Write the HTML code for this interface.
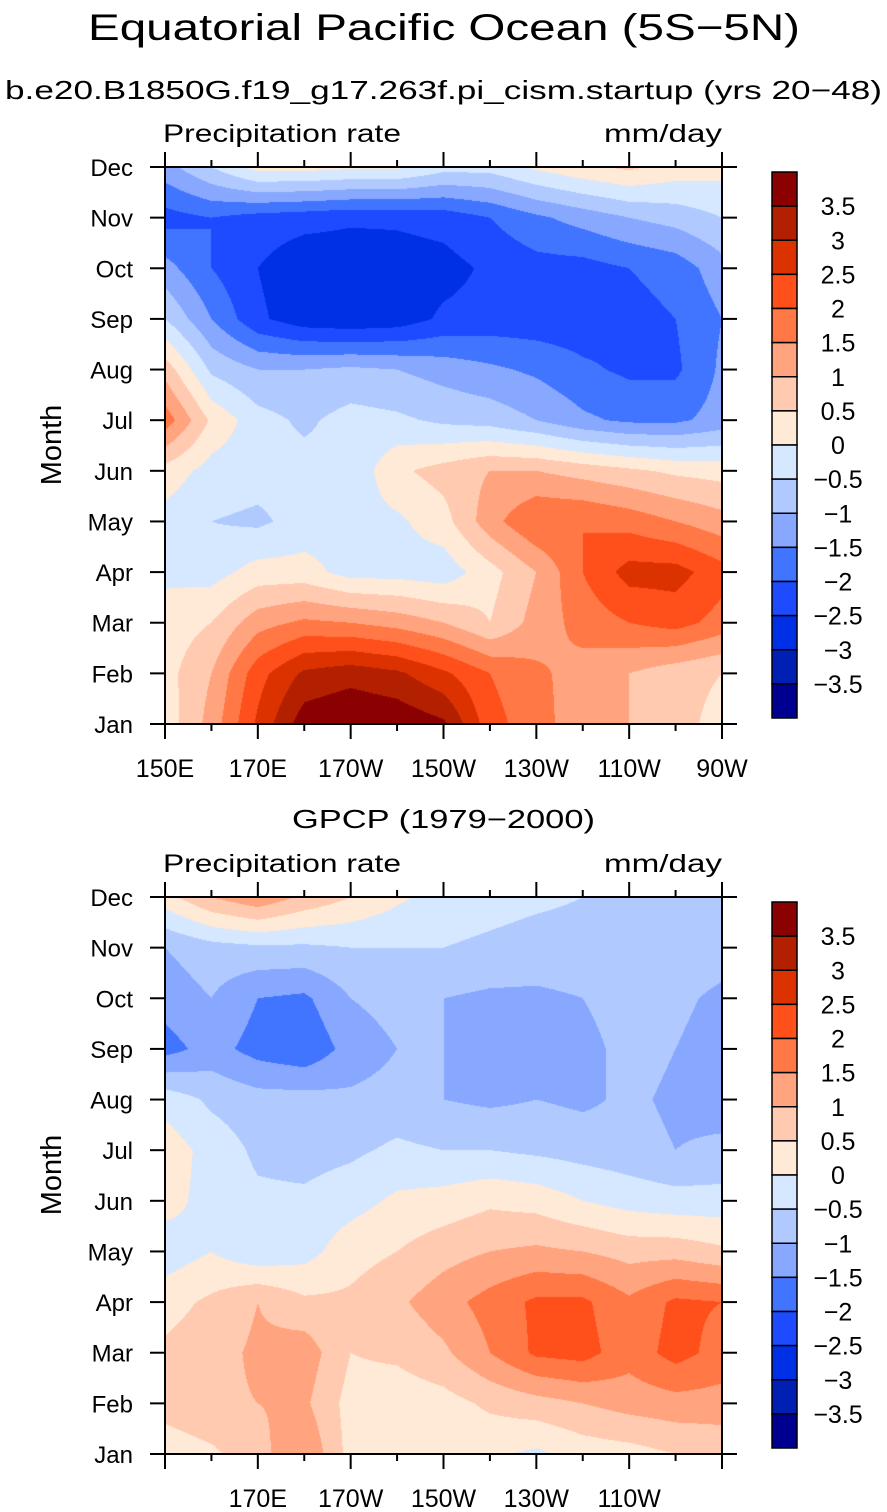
<!DOCTYPE html>
<html><head><meta charset="utf-8">
<style>
html,body{margin:0;padding:0;background:#fff;}
body{width:887px;height:1512px;position:relative;overflow:hidden;font-family:"Liberation Sans",sans-serif;}
canvas{position:absolute;}
svg{position:absolute;left:0;top:0;}
text{font-family:"Liberation Sans",sans-serif;fill:#000;}
</style></head>
<body>
<canvas id="c1" width="557" height="557" style="left:165px;top:167px"></canvas>
<canvas id="c2" width="557" height="557" style="left:165px;top:897px"></canvas>
<svg id="s" width="887" height="1512">
<text x="88" y="40" font-size="37" textLength="712" lengthAdjust="spacingAndGlyphs" font-weight="300">Equatorial Pacific Ocean (5S−5N)</text>
<text x="5" y="99" font-size="26" textLength="877" lengthAdjust="spacingAndGlyphs">b.e20.B1850G.f19_g17.263f.pi_cism.startup (yrs 20−48)</text>
<text x="292" y="828" font-size="26" textLength="303" lengthAdjust="spacingAndGlyphs">GPCP (1979−2000)</text>
</svg>
<script>
const months=["Jan","Feb","Mar","Apr","May","Jun","Jul","Aug","Sep","Oct","Nov","Dec"];
const lons=[150,160,170,180,190,200,210,220,230,240,250,260,270];
const lonTickLabels=["150E","170E","170W","150W","130W","110W","90W"];
const lonTickValues=[150,170,190,210,230,250,270];
const levels=[-3.5,-3,-2.5,-2,-1.5,-1,-0.5,0,0.5,1,1.5,2,2.5,3,3.5];
const levelColors=["#000090","#0020B4","#0030E6","#1E4BFF","#4275FF","#88A8FF","#B0CAFF","#D6E8FF","#FFE9D7","#FFCAB0","#FFA47F","#FF7845","#FF4F1A","#DC3200","#B22000","#8B0000"];
const modelVals=[
[0.2,1.2,2.6,3.8,4.0,3.9,3.6,2.2,1.7,1.2,1.0,0.7,0.3],
[0.3,1.0,2.3,3.1,3.3,3.1,2.6,2.0,1.6,1.3,1.0,0.7,0.5],
[0.2,0.5,1.3,1.6,1.5,1.3,1.0,0.5,1.2,1.7,2.0,2.2,1.8],
[-0.1,-0.2,0.2,0.2,-0.2,-0.2,-0.3,0.3,1.0,2.0,2.7,2.7,2.2],
[-0.2,-0.5,-0.6,-0.3,-0.2,-0.1,0.3,1.3,2.0,2.0,1.8,1.5,1.2],
[0.3,-0.2,-0.3,-0.3,-0.4,0.4,0.7,1.0,1.0,0.8,0.6,0.4,0.3],
[1.8,0.4,-0.3,-0.6,-0.3,-0.4,-0.6,-0.7,-1.0,-1.4,-1.6,-1.6,-1.3],
[0.8,-0.6,-1.0,-1.0,-0.9,-1.0,-1.2,-1.4,-1.6,-1.9,-2.1,-2.1,-1.4],
[-0.5,-1.5,-2.4,-2.8,-2.9,-2.8,-2.4,-2.3,-2.3,-2.3,-2.2,-2.0,-1.5],
[-1.3,-2.0,-2.5,-2.9,-2.9,-2.8,-2.7,-2.4,-2.2,-2.2,-2.0,-1.8,-1.2],
[-2.2,-2.0,-2.2,-2.3,-2.4,-2.4,-2.3,-2.0,-1.6,-1.3,-1.0,-0.8,-0.5],
[-1.2,-0.5,0.2,0.2,0.1,0.1,-0.3,-0.3,0.1,0.4,0.6,0.3,0.2]];
const gpcpVals=[
[0.2,0.4,0.8,1.5,0.3,0.2,0.1,0.1,-0.1,0.2,0.3,0.5,0.6],
[0.7,0.9,1.0,1.1,0.3,0.2,0.3,0.6,0.8,1.0,1.2,1.3,1.3],
[0.6,0.8,1.1,1.3,0.5,0.6,0.9,1.5,2.1,2.2,1.7,2.2,1.8],
[0.3,0.6,1.0,0.6,0.6,0.9,1.3,1.7,2.1,2.1,1.6,2.1,2.0],
[-0.3,0.0,-0.4,-0.2,0.3,0.5,0.8,1.0,1.1,1.0,0.8,0.8,0.6],
[0.2,-0.2,-0.4,-0.4,-0.2,0.1,0.2,0.4,0.3,0.0,-0.2,-0.3,-0.3],
[0.3,-0.2,-0.6,-0.7,-0.6,-0.4,-0.5,-0.5,-0.6,-0.7,-0.8,-1.0,-0.9],
[-0.2,-0.6,-0.8,-0.8,-0.9,-0.8,-1.0,-1.1,-1.0,-1.1,-0.9,-1.1,-1.2],
[-1.7,-1.3,-1.7,-1.9,-1.3,-1.0,-1.0,-1.2,-1.2,-1.2,-0.8,-1.0,-1.2],
[-1.3,-1.0,-1.5,-1.6,-1.0,-0.8,-1.0,-1.1,-1.1,-1.0,-0.7,-0.9,-1.1],
[-1.0,-0.7,-0.6,-0.6,-0.5,-0.5,-0.5,-0.6,-0.7,-0.7,-0.7,-0.7,-0.8],
[0.3,1.0,1.4,0.9,0.5,0.1,-0.2,-0.3,-0.4,-0.5,-0.6,-0.6,-0.6]];

const PX=165,PW=557,PH=557;
function xOf(lon){return PX+(lon-150)/120*PW;}
function yOf(top,m){return top+PH-m/11*PH;}
function colorOf(v){let i=0;while(i<levels.length&&v>=levels[i])i++;return levelColors[i];}
function drawMap(id,vals){
  const ctx=document.getElementById(id).getContext('2d');
  const nx=lons.length-1,ny=months.length-1;
  for(let py=0;py<PH;py++){
    const fm=(PH-0.5-py)/PH*ny;const m0=Math.min(ny-1,Math.floor(fm));const tm=fm-m0;
    let prev=null,start=0;
    for(let px=0;px<=PW;px++){
      let c=null;
      if(px<PW){
        const fl=(px+0.5)/PW*nx;const l0=Math.min(nx-1,Math.floor(fl));const tl=fl-l0;
        const v=(1-tm)*((1-tl)*vals[m0][l0]+tl*vals[m0][l0+1])+tm*((1-tl)*vals[m0+1][l0]+tl*vals[m0+1][l0+1]);
        c=colorOf(v);
      }
      if(c!==prev){if(prev){ctx.fillStyle=prev;ctx.fillRect(start,py,px-start,1);}prev=c;start=px;}
    }
  }
}
drawMap('c1',modelVals);drawMap('c2',gpcpVals);

const svg=document.getElementById('s');const NS='http://www.w3.org/2000/svg';
function el(tag,attrs,parent){const e=document.createElementNS(NS,tag);for(const k in attrs)e.setAttribute(k,attrs[k]);(parent||svg).appendChild(e);return e;}
function panel(top,prefix,showEnds){
  const g=el('g',{});
  
  
  const r=el('rect',{x:PX,y:top,width:PW,height:PH,fill:'none',stroke:'#000','stroke-width':2},g);
  
  
  months.forEach((m,i)=>{
    const y=yOf(top,i);
    el('line',{x1:PX-15,x2:PX,y1:y,y2:y,stroke:'#000','stroke-width':2},g);
    el('line',{x1:PX+PW,x2:PX+PW+15,y1:y,y2:y,stroke:'#000','stroke-width':2},g);
    const t=el('text',{x:133,y:y+9,'font-size':24,'text-anchor':'end'},g);t.textContent=m;
    
    
  });
  for(let lon=150;lon<=270;lon+=10){
    const x=xOf(lon);const major=(lon-150)%20===0;const L=major?15:7;
    el('line',{x1:x,x2:x,y1:top-L,y2:top,stroke:'#000','stroke-width':2},g);
    el('line',{x1:x,x2:x,y1:top+PH,y2:top+PH+L,stroke:'#000','stroke-width':2},g);
  }
  lonTickValues.forEach((lon,i)=>{
    if(!showEnds&&(lon===150||lon===270))return;
    const t=el('text',{x:xOf(lon),y:top+PH+53,'font-size':25,'text-anchor':'middle'},g);t.textContent=lonTickLabels[i];
    
    
  });
  const a=el('text',{x:163,y:top-25,'font-size':25,textLength:238,lengthAdjust:'spacingAndGlyphs'},g);a.textContent='Precipitation rate';
  
  
  const b=el('text',{x:604,y:top-25,'font-size':25,textLength:118,lengthAdjust:'spacingAndGlyphs'},g);b.textContent='mm/day';
  
  
  const yt=el('text',{x:0,y:0,'font-size':29,'text-anchor':'middle',transform:`translate(61,${top+278}) rotate(-90)`},g);yt.textContent='Month';
  
  
  const cb=el('g',{},g);
  
  
  const cTop=top+5,cH=546,n=levelColors.length,bh=cH/n;
  levelColors.slice().reverse().forEach((c,i)=>{
    const rr=el('rect',{x:772,y:cTop+i*bh,width:25,height:bh,fill:c,stroke:'#000','stroke-width':1.5},cb);
    
    
  });
  levels.slice().reverse().forEach((lv,i)=>{
    const t=el('text',{x:838,y:cTop+(i+1)*bh+9,'font-size':25,'text-anchor':'middle'},cb);
    t.textContent=(lv<0?'−':'')+Math.abs(lv);
    
    
  });
}
panel(167,'model',true);
panel(897,'gpcp',false);
</script>
</body></html>
